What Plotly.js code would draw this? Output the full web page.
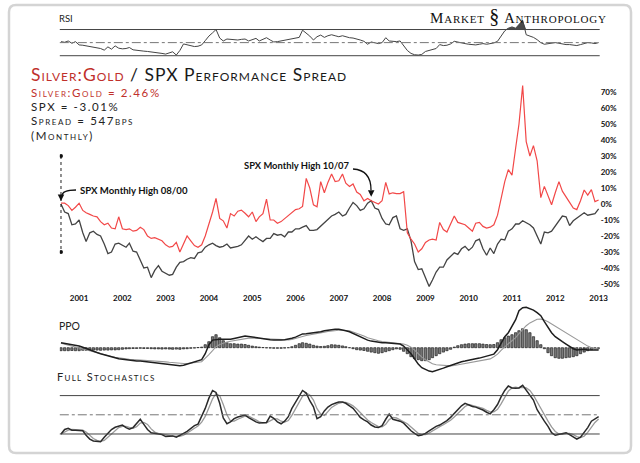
<!DOCTYPE html>
<html><head><meta charset="utf-8">
<script src="https://cdn.plot.ly/plotly-3.0.1.min.js"></script>
<style>html,body{margin:0;padding:0;background:#fff;overflow:hidden}#chart{width:640px;height:463px}</style>
</head><body><div id="chart"></div>
<script>
// ---------- DATA (monthly, 2000-08 .. 2013-01) ----------
const startYear = 2000, startMonthIndex = 7; // August 2000
const silverGold = [
 0.5,0.5,-1,-4,-2,0.5,-4,-5.5,-6.5,-7.5,
 -8,-11,-13,-12,-15,-15.5,-8,-15.5,-16,-15.5,
 -17,-16.5,-14.5,-16,-20,-21.5,-21,-22,-23,-25.5,
 -27,-26.5,-24,-30,-25,-20,-23,-26,-27,-25.5,
 -20,-13,-5,3.5,-9,-10.5,-15,-6,-7.5,-4.5,
 -3.8,-5.8,-8,-5,-11,-8,-6,3,-10,-10,
 -12,-11,-9,-7,-5,-3.5,-3,-1.5,16,10,
 -0.5,-1.7,14,7,13.5,18.75,14,14.5,18.75,13,
 11,12.5,7.5,6,2,3.5,2,1,0,2,
 13.5,6.3,7,6.5,6.5,7.7,-18,-22,-25,-30,
 -28,-24,-22.5,-22,-22.5,-11.5,-16,-17.5,-13,-7.5,
 -11.5,-12.5,-13,-15,-17,-12,-11.5,-14,-15,-14.5,
 -13,-7,3,14,21.5,18,35,50,74,39,
 30,36.5,27,4,11,5,-0.5,7,14,8,
 4,1,-2.5,-3.5,2,8.75,5.5,9,1.5,2.46];
const spx = [
 0,-5,-6,-13,-12.5,-10,-18,-23.5,-18,-17,
 -19,-20,-25,-31,-30,-25,-24.5,-25.5,-27,-24.5,
 -29.5,-30,-35,-40,-39.5,-46,-41.5,-38.5,-42,-43.5,
 -44.5,-44,-39.5,-36.5,-36,-34.5,-33.5,-34,-30.5,-30,
 -27,-25.5,-24.5,-26,-27,-26.5,-25,-27.5,-27,-26.5,
 -25.5,-22.5,-20,-22,-20.5,-22,-23.5,-21.5,-21.5,-18.5,
 -19.5,-19,-20.5,-17.5,-17.5,-15.5,-15.5,-14.5,-13.5,-16.5,
 -16.5,-16,-14,-12,-9.5,-7.5,-6.5,-5,-7.5,-6.5,
 -2.5,1,-1,-4,-3,0.5,2,-2.5,-3.5,-9,
 -12.5,-13,-8.5,-7.5,-15.5,-16.5,-15.5,-23,-36,-41,
 -40.5,-45.5,-51.5,-47.5,-42.5,-39.5,-39.5,-35,-33,-30.5,
 -31.5,-28,-26.5,-29,-27,-23,-22,-28,-32,-27.5,
 -31,-25,-22,-22.5,-17,-15.5,-12.5,-12.5,-10.5,-11.5,
 -13,-15,-19.5,-25,-17.5,-18,-17,-13.5,-10,-7.5,
 -8,-13.5,-10.5,-9,-7.5,-5.5,-7,-6.5,-6,-3.01];
const rsi = [
 51.5,50.5,52.5,49,51.5,46.5,46,45,44,43,
 42.5,41,38.5,43.5,40,45,41.5,40.5,41,42.5,
 39,38,37,37,36.5,36,35,34.5,33.5,32.5,
 34,36,31,38,48,47,45,44,44.5,46.5,
 53,60,65,70,57,52.5,55.5,55,55.5,54,
 55,55.5,52.5,54,56.5,52.5,55,57.5,54,51,
 51.5,52.5,54,55.5,56.5,57,58,69,65,60,
 54,59,61.5,58,60.5,62,60.5,59,60.5,58.5,
 57.5,57,56,54,52,47.5,51,50,48.5,50,
 57.5,52.5,51.5,51.5,52.5,46,38,33.5,31.5,31,
 32,36.5,38,39.5,41,47,45.5,46,48,52,
 50.5,49.5,48.5,47.5,47,46.5,47.5,48.5,47.5,48,
 49.5,52,59,68,72,74,72,77,84,62,
 60,58,54.5,50,47.5,48.5,49.5,50,49,47.5,
 47,47,46.5,45.5,47,48.5,50,49.5,48.5,50];
const ppo = [
 2.5,2.2,1.9,1.5,1.2,0.8,0.2,-0.5,-1.2,-1.8,
 -2.4,-3,-3.6,-4,-4.5,-5,-5.5,-5.8,-6,-6.3,
 -6.5,-6.6,-6.7,-6.9,-7,-7.1,-7.3,-7.5,-7.8,-8,
 -8.2,-8.5,-8.8,-9,-8.8,-8.3,-7.8,-7.2,-6.7,-6,
 -3,1.5,3.8,4.1,4.2,4.2,4.2,4.2,4.6,5,
 5.4,5.8,5.6,5.3,5,4.7,4.4,4.2,4,3.9,
 3.8,3.9,4,4.2,4.7,5.3,6.2,6.9,7,7.2,
 7.4,7.7,8,8.5,8.8,9.1,9.2,9.2,9,8.5,
 8,7.2,6.2,5.2,4.5,3.8,3.3,3,2.8,2.5,
 2.5,2.4,2.3,2.2,1.8,0.8,-1,-3,-5.5,-8.2,
 -10,-11,-11.7,-12,-11.5,-10.8,-10.2,-9.5,-8.8,-8.1,
 -7.5,-7,-6.7,-6.2,-5.8,-5.5,-5.2,-4.8,-4.3,-3.8,
 -3.2,-1,2.5,5.5,7.5,10.5,14,18.5,20,20.2,
 19.5,18.8,17.5,16,13,10,7.5,5.5,4,3,
 1.8,0.5,-0.5,-1.1,-0.9,-0.8,-1.1,-1.2,-1,-1.1];
const ppoSignal = [
 2.2,1.7,1.2,0.7,0.3,-0.2,-0.7,-1.3,-1.8,-2.3,
 -2.8,-3.2,-3.6,-4,-4.4,-4.8,-5.1,-5.4,-5.6,-5.8,
 -5.9,-6,-6.1,-6.2,-6.3,-6.4,-6.5,-6.7,-6.9,-7.1,
 -7.3,-7.5,-7.7,-7.8,-7.9,-7.9,-7.8,-7.6,-7.3,-7,
 -5.5,-3.5,-1.5,0.5,1.6,2.3,2.8,3.2,3.5,3.9,
 4.3,4.6,4.8,4.8,4.7,4.6,4.4,4.2,4.1,4,
 3.9,3.9,3.9,3.9,4.1,4.5,5,5.6,6.1,6.5,
 6.8,7.1,7.4,7.8,8.1,8.4,8.6,8.7,8.7,8.6,
 8.4,7.9,7.3,6.5,5.8,5,4.4,3.9,3.5,3.1,
 2.9,2.7,2.6,2.4,2.2,1.8,1.2,0.3,-1.2,-3,
 -4.7,-6,-7.2,-8,-8.5,-8.7,-8.9,-9.1,-9.1,-8.9,
 -8.6,-8.3,-8,-7.7,-7.4,-7.1,-6.8,-6.5,-6.2,-5.6,
 -4.5,-3.2,-1.3,0.5,2,3.5,5,7,9.3,11,
 12.4,13.5,14.2,14.3,13.9,13,11.9,10.7,9.7,8.5,
 7.3,6.1,5,4,3,2,0.8,0,-0.5,-0.8];
const ppoHist = [
 -1.5,-1.5,-1.5,-1.4,-1.5,-1.5,-1.3,-1.3,-1.2,-1.2,
 -1.2,-1.3,-1.2,-1.2,-1.1,-1.1,-1,-0.8,-0.6,-0.5,
 -0.4,-0.4,-0.3,-0.4,-0.4,-0.5,-0.6,-0.6,-0.7,-0.6,
 -0.7,-0.8,-0.7,-0.8,-0.6,-0.5,-0.3,-0.2,0.1,0.3,
 1.5,3,5.5,6.5,5,3.5,2.5,2,2,1.8,
 1.8,1.6,1.2,0.8,0.5,0.3,0.1,-0.1,-0.2,-0.3,
 -0.3,-0.3,-0.2,0,0.5,1.2,2,2.5,2.2,1.8,
 1.2,0.8,0.6,0.7,1,1.5,1.4,1.2,0.9,0.5,
 0,-0.5,-1,-1.2,-1.4,-1.8,-2.2,-2.5,-2.8,-2.5,
 -2,-1.5,-1,-0.6,-0.8,-1.8,-3,-4.5,-5.5,-6,
 -6.5,-6.5,-6,-5,-4,-3,-2.2,-1.5,-0.8,0.3,
 1,1.5,1.8,2,2,2,2,1.8,1.6,1.5,
 1.6,2.5,4,5,5.8,6.5,7.5,8.5,9.5,9,
 7.5,5.5,3.5,1.5,-0.5,-2.5,-4,-5,-5.3,-5.3,
 -5,-4.8,-4.5,-4,-3,-2.2,-1.5,-1,-0.6,-0.5];
const stochK = [
 20,27,29,26,26,26,25,18,12,9,
 8,8,15,21,27,30.5,32,34,30,27.5,
 30,37,43,35,27,22,21,20,19,16,
 17,17,15,17.5,21,24,29,33,35.5,47,
 60,76,88,85,68,45,36,39,44,46.5,
 48,49.5,45.5,42,39,37,37,38,48,44.5,
 39,36,40,47,60,70,80,88,84,72,
 62.5,44,47,56,62,66,68,70,70,68,
 64,60,53,46,42,39,34,31,30,33,
 43,51,43,42,40,37,31,25,21,17.5,
 18.5,21,25,28.5,32,34,37.5,41,46,52,
 57.5,64,68,65,63,62,60,57.5,54,51.5,
 58,66,78,88,95,92,91.5,92,96,89,
 80,73,58,48,40,32,22,18,19,21,
 22,19,16,12,15,22,30,40,44,47];
const stochD = [
 20,23,26,27,27,26,26,23,18,13,
 10,8.5,10,15,21,26,30,32,32,30.5,
 29,31.5,37,38,35,28,23,21,20,18,
 17.5,16.5,16.5,16.5,18,21,25,29,32.5,38.5,
 47.5,61,75,83,80,66,50,40,40,43,
 46,48,48,45.5,42,39,37.5,37.5,41,43.5,
 43.5,40,38.5,41,49,59,70,79,84,81,
 73,59.5,51,49,55,61.5,65,68,69.5,69.5,
 67,64,59,53,47,42,38,34.5,31.5,31,
 35,42.5,46,45,42,39.5,36,31,26,21,
 19,19,21.5,25,28.5,31.5,34.5,37.5,41.5,46.5,
 52,58,63,66,65,63,61.5,60,57,54.5,
 54.5,58.5,67,77,87,92,93,92,93,92,
 88,80.5,70,59.5,48.5,40,31,24,20,19.5,
 21,21,19,16,14.5,16.5,22.5,31,38,43.5];
const yearLabels = ['2001','2002','2003','2004','2005','2006','2007','2008','2009','2010','2011','2012','2013'];
const pctTicks = [-50,-40,-30,-20,-10,0,10,20,30,40,50,60,70];
const rsiLevels = [70, 50, 30];
const stochLevels = [80, 50, 20];
const highLabels = ['SPX Monthly High 08/00', 'SPX Monthly High 10/07'];
const highIdx = [0, 86];

// ---------- helpers ----------
const pad = n => String(n).padStart(2,'0');
const dates = silverGold.map((_, i) => {
  const d = new Date(Date.UTC(startYear, startMonthIndex + i, 1));
  return d.getUTCFullYear() + '-' + pad(d.getUTCMonth()+1) + '-01';
});
const W = 640, H = 463;
const px = x => x / W, py = y => 1 - y / H;
const P = (x, y) => px(x).toFixed(5) + ',' + py(y).toFixed(5);
const FONT = 'Lato, "Open Sans", sans-serif';
const xDom = [59.8/W, 599.7/W];
const xRange = ['2000-07-22', '2013-01-10'];

const traces = [];
// RSI
traces.push({x: dates, y: rsi.map(() => rsiLevels[0]), xaxis:'x2', yaxis:'y2', mode:'lines', line:{width:0, color:'rgba(0,0,0,0)'}, hoverinfo:'skip'});
traces.push({x: dates, y: rsi.map(v => Math.max(v, rsiLevels[0])), xaxis:'x2', yaxis:'y2', mode:'lines', line:{width:0, color:'rgba(0,0,0,0)'}, fill:'tonexty', fillcolor:'#4a4a4a'});
traces.push({x: dates, y: rsi, xaxis:'x2', yaxis:'y2', mode:'lines', line:{color:'#444', width:1}});
// main
traces.push({x: dates, y: spx, xaxis:'x', yaxis:'y', mode:'lines', line:{color:'#444', width:1.3}});
traces.push({x: dates, y: silverGold, xaxis:'x', yaxis:'y', mode:'lines', line:{color:'#f24848', width:1.2}});
// PPO
traces.push({x: dates, y: ppoHist, xaxis:'x3', yaxis:'y3', type:'bar', marker:{color:'#7a7a7a', line:{color:'#222', width:0.7}}});
traces.push({x: dates, y: ppoSignal, xaxis:'x3', yaxis:'y3', mode:'lines', line:{color:'#999', width:1.1}});
traces.push({x: dates, y: ppo, xaxis:'x3', yaxis:'y3', mode:'lines', line:{color:'#1e1e1e', width:1.5}});
// Stochastics
traces.push({x: dates, y: stochD, xaxis:'x4', yaxis:'y4', mode:'lines', line:{color:'#9a9a9a', width:1.3}});
traces.push({x: dates, y: stochK, xaxis:'x4', yaxis:'y4', mode:'lines', line:{color:'#2a2a2a', width:1.5}});

const hiddenX = (anchor) => ({domain: xDom, type:'date', range: xRange, matches:'x', anchor, visible:false, showgrid:false, zeroline:false});
const hiddenY = (dom, range) => ({domain: dom, range, visible:false, showgrid:false, zeroline:false, fixedrange:true});

const shapes = [];
// frame
const fx0=9, fx1=631, fy0=5, fy1=453, r=7;
shapes.push({type:'path', xref:'paper', yref:'paper', layer:'below',
  path:'M'+P(fx0+r,fy0)+' L'+P(fx1-r,fy0)+' Q'+P(fx1,fy0)+' '+P(fx1,fy0+r)+' L'+P(fx1,fy1-r)+' Q'+P(fx1,fy1)+' '+P(fx1-r,fy1)+
       ' L'+P(fx0+r,fy1)+' Q'+P(fx0,fy1)+' '+P(fx0,fy1-r)+' L'+P(fx0,fy0+r)+' Q'+P(fx0,fy0)+' '+P(fx0+r,fy0)+' Z',
  line:{color:'#d4d4d4', width:2.5}, fillcolor:'rgba(0,0,0,0)'});
// RSI / Stoch level lines
rsiLevels.forEach((lv, i) => shapes.push({type:'line', xref:'x2 domain', yref:'y2', x0:0, x1:1, y0:lv, y1:lv,
  line:{color: i===1 ? '#777' : '#444', width:1, dash: i===1 ? 'dashdot' : 'solid'}}));
stochLevels.forEach((lv, i) => shapes.push({type:'line', xref:'x4 domain', yref:'y4', x0:0, x1:1, y0:lv, y1:lv,
  line:{color: i===1 ? '#777' : '#444', width:1, dash: i===1 ? 'dashdot' : 'solid'}}));
// dotted bracket at first high
shapes.push({type:'line', xref:'x', yref:'y', x0:dates[0], x1:dates[0], y0:30, y1:-30, line:{color:'#222', width:1, dash:'dot'}});
[30, -30].forEach(v => shapes.push({type:'circle', xref:'x', yref:'y', xsizemode:'pixel', ysizemode:'pixel',
  xanchor:dates[0], yanchor:v, x0:-2, x1:2, y0:-2, y1:2, fillcolor:'#111', line:{width:0}}));
// curved arrow bodies
shapes.push({type:'path', xref:'paper', yref:'paper', path:'M'+P(76,190)+' Q'+P(62,190)+' '+P(62,196), line:{color:'#111', width:1.3}});
shapes.push({type:'path', xref:'paper', yref:'paper', path:'M'+P(353,169)+' Q'+P(371,170)+' '+P(371,190), line:{color:'#111', width:1.3}});

const ann = [];
const spacing = {};
const addText = (text, x, y, font, opts={}, ls=0) => {
  if (ls) spacing[ann.length] = {ls, left: x};
  ann.push(Object.assign({text, xref:'paper', yref:'paper', x:px(x), y:py(y),
    xanchor:'left', yanchor:'middle', showarrow:false, font:Object.assign({family:FONT, color:'#222'}, font)}, opts));
};
addText('RSI', 57, 18, {size:9.5});
addText('PPO', 57, 326, {size:10.5});
addText('Full Stochastics', 57, 376, {size:11, variant:'small-caps'}, {}, 1.3);
addText('<span style="color:#c0302b">Silver:Gold</span> / SPX Performance Spread', 31, 74.5, {size:17.5, color:'#1a1a1a', variant:'small-caps'}, {}, 1.0);
addText('Silver:Gold = 2.46%', 31, 92, {size:11.5, color:'#c0302b', variant:'small-caps'}, {}, 1.6);
addText('SPX = -3.01%', 31, 106.5, {size:11.5, variant:'small-caps'}, {}, 1.6);
addText('Spread = 547bps', 31, 121, {size:11.5, variant:'small-caps'}, {}, 1.6);
addText('(Monthly)', 31, 135.5, {size:11.5, variant:'small-caps'}, {}, 1.6);
addText('Market <span style="font-size:20px">§</span> Anthropology', 430, 16, {family:'"Liberation Serif", serif', size:15, color:'#111', variant:'small-caps'}, {}, 0.8);
addText(highLabels[0], 78, 190, {size:9.6, color:'#111', weight:'bold'});
addText(highLabels[1], 242, 165, {size:9.4, color:'#111', weight:'bold'});
highIdx.forEach((idx, k) => ann.push({xref:'x', yref:'y', x:dates[idx], y:spx[idx], text:'', showarrow:true,
  arrowhead:2, arrowsize:1, arrowwidth:1.3, arrowcolor:'#111', ax:0, ay: k===0 ? -7 : -8, standoff: k===0 ? 3 : 4}));

const layout = {
  width: W, height: H, margin:{l:0, r:0, t:0, b:0}, paper_bgcolor:'#fff', plot_bgcolor:'rgba(0,0,0,0)',
  showlegend:false, hovermode:false, dragmode:false, bargap:0.3,
  font:{family:FONT, color:'#222'},
  xaxis:{domain:xDom, type:'date', range:xRange, anchor:'y', showgrid:false, zeroline:false, showline:false, ticks:'',
    tickvals: yearLabels.map(y => y + '-01-01'), ticktext: yearLabels,
    tickfont:{family:FONT, size:8, color:'#111', weight:'bold'}},
  yaxis:{domain:[py(292), py(80)], range:[-55, 77.5], side:'right', anchor:'x', showgrid:false, zeroline:false, showline:false, ticks:'',
    tickvals: pctTicks, ticktext: pctTicks.map(v => v + '%'), tickfont:{family:FONT, size:8, color:'#111', weight:'bold'}},
  xaxis2: hiddenX('y2'), yaxis2: hiddenY([py(62), py(18)], [20.4, 87.6]),
  xaxis3: hiddenX('y3'), yaxis3: hiddenY([py(378), py(300)], [-15.15, 23.85]),
  xaxis4: hiddenX('y4'), yaxis4: hiddenY([py(448), py(382)], [-1.9, 101.25]),
  shapes, annotations: ann
};
Plotly.newPlot('chart', traces, layout, {staticPlot:true, displayModeBar:false}).then(gd => {
  Object.keys(spacing).forEach(i => {
    const s = spacing[i];
    gd.querySelectorAll('.annotation[data-index="' + i + '"] text.annotation-text').forEach(t => {
      t.style.letterSpacing = s.ls + 'px';
      const b = t.getBoundingClientRect();
      const dx = s.left - b.left;
      t.setAttribute('x', parseFloat(t.getAttribute('x') || 0) + dx);
      t.querySelectorAll('tspan[x]').forEach(ts => ts.setAttribute('x', parseFloat(ts.getAttribute('x')) + dx));
    });
  });
});
</script></body></html>
